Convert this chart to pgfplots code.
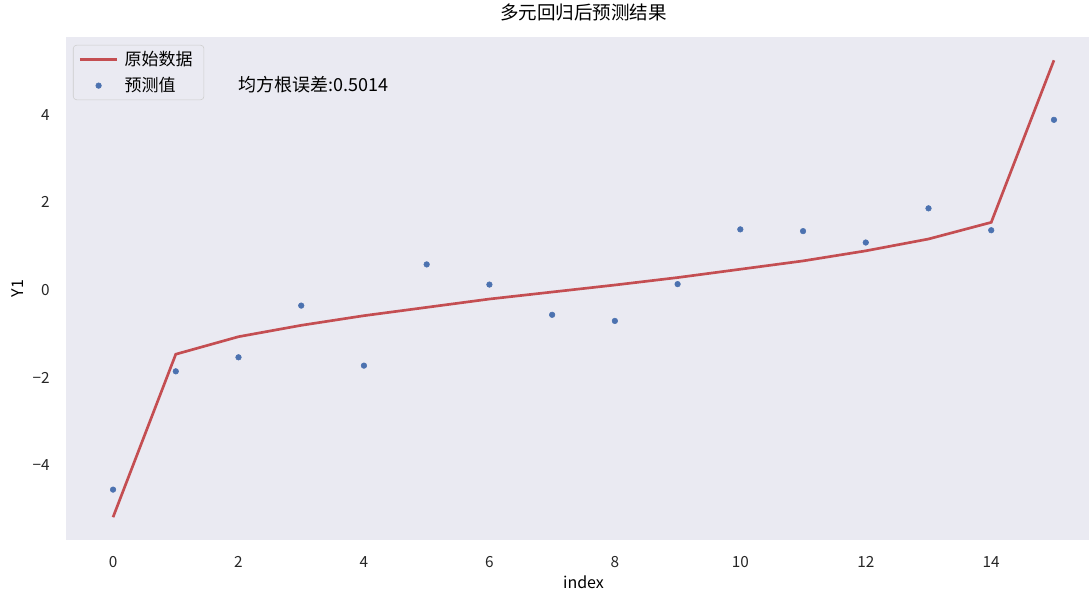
\documentclass[border=0pt]{standalone}
\usepackage{fontspec}
\setmainfont{Noto Sans CJK SC}
\usepackage{pgfplots}
\pgfplotsset{compat=1.18}
\definecolor{bgc}{HTML}{EAEAF2}
\definecolor{sred}{HTML}{C44E52}
\definecolor{sblue}{HTML}{4C72B0}
\definecolor{lgedge}{HTML}{CCCCCC}
\begin{document}
\begin{tikzpicture}
\begin{axis}[
  name=ax,
  scale only axis,
  width=776.25pt, height=376.9pt,
  xmin=-0.75, xmax=15.75,
  ymin=-5.71, ymax=5.76,
  axis background/.style={fill=bgc},
  axis line style={draw=none},
  major tick length=0pt,
  clip mode=individual,
  xtick={0,2,4,6,8,10,12,14},
  xticklabels={0,2,4,6,8,10,12,14},
  ytick={-4,-2,0,2,4},
  yticklabels={−4,−2,0,2,4},
  tick label style={font=\fontsize{11.5}{13}\selectfont, text=black!85},
  xticklabel style={anchor=center, yshift=-16.5pt},
  yticklabel style={anchor=east, inner sep=0pt, xshift=-12pt},
  every axis x label/.style={at={(rel axis cs:0.5,0)}, anchor=center, yshift=-31.5pt, font=\fontsize{12}{14}\selectfont},
  every axis y label/.style={at={(rel axis cs:-0.0464,0.5)}, anchor=center, rotate=90, font=\fontsize{12}{14}\selectfont},
  xlabel={index}, ylabel={Y1},
  title={多元回归后预测结果},
  title style={at={(0.5,1)}, anchor=center, yshift=13pt, font=\fontsize{13.9}{16}\selectfont},
  legend cell align=left,
  legend style={at={(rel axis cs:0,1)}, anchor=north west, xshift=5.25pt, yshift=-5.6pt,
    draw=lgedge, fill=bgc, rounded corners=2.5pt, font=\fontsize{12.75}{15}\selectfont,
    inner xsep=4pt, inner ysep=2pt, row sep=2.5pt,
    nodes={inner ysep=2.5pt, inner xsep=4.5pt}},
  legend image code/.code={\draw[#1] (0pt,0pt) -- (28pt,0pt);},
]
\addplot[sred, line width=2pt] coordinates {
(0,-5.19) (1,-1.47) (2,-1.07) (3,-0.81) (4,-0.59) (5,-0.40) (6,-0.21) (7,-0.05)
(8,0.11) (9,0.28) (10,0.47) (11,0.66) (12,0.89) (13,1.16) (14,1.54) (15,5.24)};
\addlegendentry{原始数据}
\addplot[only marks, mark=*, mark size=2.1pt, color=sblue, mark options={draw=sblue, fill=sblue},
  legend image code/.code={\fill[sblue] (14pt,0pt) circle (2.1pt);}] coordinates {
(0,-4.56) (1,-1.86) (2,-1.54) (3,-0.36) (4,-1.73) (5,0.58) (6,0.12) (7,-0.57)
(8,-0.71) (9,0.13) (10,1.38) (11,1.34) (12,1.08) (13,1.86) (14,1.36) (15,3.88)};
\addlegendentry{预测值}
\node[anchor=west, inner sep=0pt, font=\fontsize{13.5}{16}\selectfont] at (axis cs:2.0,4.68) {均方根误差:0.5014};
\end{axis}
\path (ax.south west) ++(-49.5pt,-37.5pt) coordinate (bl);
\path (ax.north east) ++(-9pt,28.1pt) coordinate (tr);
\pgfresetboundingbox
\path[use as bounding box] (bl) rectangle (tr);
\end{tikzpicture}
\end{document}
